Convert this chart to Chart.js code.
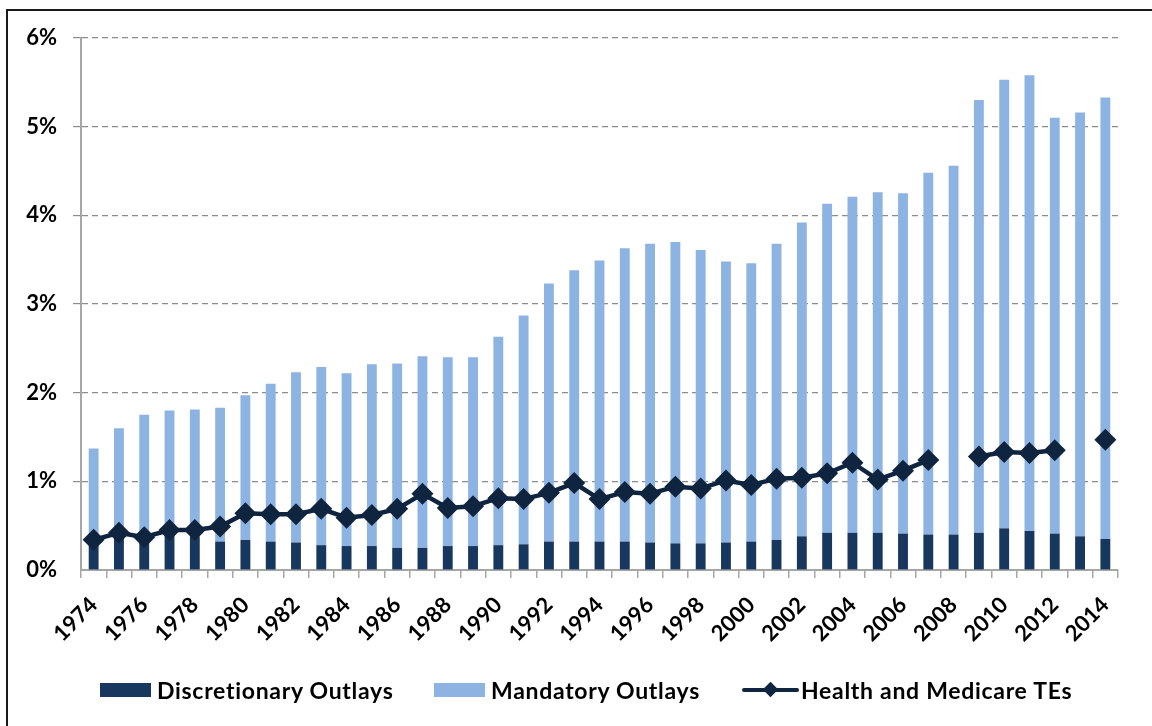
<!DOCTYPE html>
<html>
<head>
<meta charset="utf-8">
<script src="https://cdn.jsdelivr.net/npm/chart.js@4/dist/chart.umd.min.js"></script>
<style>
  body { margin: 0; background: #fff; }
  #wrap { position: relative; width: 1152px; height: 726px; overflow: hidden; background: #fff; }
  #frame { position: absolute; left: 6px; top: 9px; right: -10px; bottom: -10px;
           border-top: 2px solid #1a1a1a; border-left: 2px solid #1a1a1a; }
  canvas { position: absolute; left: 0; top: 0; }
  .leg { position: absolute; top: 677px; height: 26px; display: flex; align-items: center;
         font-family: Lato, "Open Sans", sans-serif; font-weight: bold; font-size: 23px;
         letter-spacing: 0.7px; color: #000; }
  .sw { width: 51px; height: 14px; margin-right: 6px; }
  .lineSw { position: relative; width: 57px; height: 14px; margin-right: 2px; }
  .lineSw .ln { position: absolute; left: 0; right: 0; top: 5px; height: 4px; background: #0F243E; border-radius: 2px; }
  .lineSw .dm { position: absolute; left: 23px; top: 1px; width: 11px; height: 11px; background: #0F243E; transform: rotate(45deg); }
</style>
</head>
<body>
<div id="wrap">
  <canvas id="myChart" width="1152" height="726"></canvas>
  <div id="frame"></div>
  <div class="leg" style="left:100px"><div class="sw" style="background:#17375E"></div>Discretionary Outlays</div>
  <div class="leg" style="left:434px"><div class="sw" style="background:#8DB3E2"></div>Mandatory Outlays</div>
  <div class="leg" style="left:742px"><div class="lineSw"><div class="ln"></div><div class="dm"></div></div>Health and Medicare TEs</div>
</div>
<script>
// años fiscales
const years = [];
for (let y = 1974; y <= 2014; y++) years.push(String(y));

// % del PIB
const discretionary = [0.33, 0.40, 0.40, 0.44, 0.38, 0.32, 0.34, 0.32, 0.31, 0.28,
                       0.27, 0.27, 0.25, 0.25, 0.27, 0.27, 0.28, 0.29, 0.32, 0.32,
                       0.32, 0.32, 0.31, 0.30, 0.30, 0.31, 0.32, 0.34, 0.38, 0.42,
                       0.42, 0.42, 0.41, 0.40, 0.40, 0.42, 0.47, 0.44, 0.41, 0.38, 0.35];
const mandatory = [1.04, 1.20, 1.35, 1.36, 1.43, 1.51, 1.63, 1.78, 1.92, 2.01,
                   1.95, 2.05, 2.08, 2.16, 2.13, 2.13, 2.35, 2.58, 2.91, 3.06,
                   3.17, 3.31, 3.37, 3.40, 3.31, 3.17, 3.14, 3.34, 3.54, 3.71,
                   3.79, 3.84, 3.84, 4.08, 4.16, 4.88, 5.06, 5.14, 4.69, 4.78, 4.98];
const healthTEs = [0.34, 0.42, 0.37, 0.45, 0.45, 0.49, 0.64, 0.63, 0.63, 0.69,
                   0.59, 0.62, 0.69, 0.86, 0.70, 0.72, 0.81, 0.80, 0.87, 0.98,
                   0.80, 0.88, 0.86, 0.94, 0.92, 1.01, 0.96, 1.03, 1.04, 1.09,
                   1.21, 1.02, 1.12, 1.24, null, 1.28, 1.33, 1.32, 1.35, null, 1.47];
const yTicks = [0, 1, 2, 3, 4, 5, 6];

const FONT = { family: 'Lato, "Open Sans", sans-serif', weight: 'bold', size: 22 };

const ctx = document.getElementById('myChart').getContext('2d');
const myChart = new Chart(ctx, {
    type: 'bar',
    data: {
        labels: years,
        datasets: [
            {
                type: 'line',
                label: 'Health and Medicare TEs',
                data: healthTEs,
                stack: 'te',
                order: 0,
                borderColor: '#0F243E',
                backgroundColor: '#0F243E',
                borderWidth: 4.5,
                pointStyle: 'rectRot',
                pointRadius: 11,
                pointBorderWidth: 0,
                spanGaps: false,
                tension: 0
            },
            {
                label: 'Discretionary Outlays',
                data: discretionary,
                stack: 'outlays',
                order: 1,
                backgroundColor: '#17375E',
                categoryPercentage: 1,
                barPercentage: 0.39
            },
            {
                label: 'Mandatory Outlays',
                data: mandatory,
                stack: 'outlays',
                order: 1,
                backgroundColor: '#8DB3E2',
                categoryPercentage: 1,
                barPercentage: 0.39
            }
        ]
    },
    options: {
        responsive: false,
        animation: false,
        layout: { padding: { left: 0, top: 38, right: 34, bottom: 0 } },
        plugins: { legend: { display: false }, tooltip: { enabled: false } },
        scales: {
            x: {
                stacked: true,
                grid: { offset: true, drawOnChartArea: false, drawTicks: true, tickLength: 8, color: '#a6a6a6', lineWidth: 1.5 },
                border: { color: '#a6a6a6', width: 2 },
                ticks: {
                    autoSkip: false, minRotation: 45, maxRotation: 45, padding: 14,
                    color: '#000', font: FONT,
                    callback: function(v, i) { return i % 2 === 0 ? years[i] : ''; }
                },
                afterFit: function(s) { s.height = 156; }
            },
            y: {
                stacked: true,
                min: 0, max: 6,
                afterBuildTicks: function(s) { s.ticks = yTicks.map(v => ({ value: v })); },
                grid: {
                    color: function(c) { return c.index === 0 ? 'rgba(0,0,0,0)' : '#8c8c8c'; },
                    tickLength: 8, lineWidth: 1.2
                },
                border: { color: '#a6a6a6', width: 2, dash: [6, 4] },
                ticks: {
                    padding: 16, color: '#000', font: FONT,
                    callback: function(v) { return v + '%'; }
                },
                afterFit: function(s) { s.width = 81; }
            }
        }
    }
});
</script>
</body>
</html>
